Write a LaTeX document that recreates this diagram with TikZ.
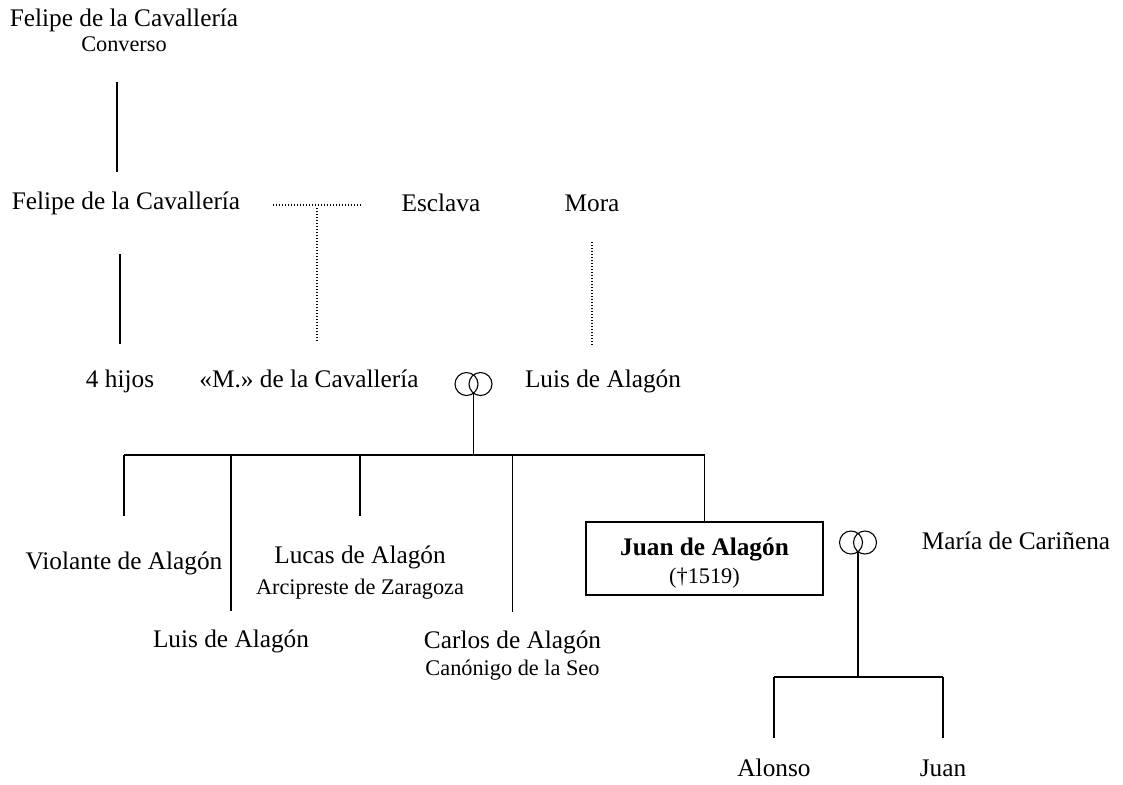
\documentclass[tikz,border=0pt]{standalone}
\usepackage{fontspec}
\setmainfont{Liberation Serif}
\usetikzlibrary{positioning}

\begin{document}
\begin{tikzpicture}[x=0.5pt, y=-0.5pt, node distance=12pt]
\tikzstyle{person} = [inner sep=0pt, text height=0.7em, text depth=0.22em, font=\fontsize{12.65}{15}\selectfont]
\tikzstyle{role} = [inner sep=0pt, text height=0.7em, text depth=0.22em, font=\fontsize{11.15}{13}\selectfont]
\tikzstyle{box} = [draw, line width=0.6pt, minimum width=118.5pt, minimum height=34.5pt, align=center, font=\fontsize{12.65}{14}\selectfont]
\tikzstyle{wed} = [inner sep=0pt, minimum width=18.5pt, minimum height=9pt]
\tikzstyle{kin} = [line width=0.55pt]
\tikzstyle{natural} = [line width=0.55pt, dash pattern=on 0.6pt off 0.9pt]

\useasboundingbox (0,0) rectangle (1123,784);

% generations
\node (felipeA) [person] at (124,22) {Felipe de la Cavallería};
\node (converso) [role, below of=felipeA, node distance=12.3pt] {Converso};
\node (felipeB) [person] at (126,205) {Felipe de la Cavallería};
\node (esclava) [person] at (441,207) {Esclava};
\node (mora) [person] at (592,207) {Mora};
\node (hijos) [person] at (120,383) {4 hijos};
\node (mcav) [person] at (309,383) {«M.» de la Cavallería};
\node (luisA) [person] at (603,383) {Luis de Alagón};
\node (wedA) [wed] at (473.5,384) {};

\node (violante) [person] at (124,565) {Violante de Alagón};
\node (lucas) [person] at (360,559) {Lucas de Alagón};
\node (arcipreste) [role, below of=lucas, node distance=15.3pt] {Arcipreste de Zaragoza};
\node (luisB) [person] at (231,643) {Luis de Alagón};
\node (carlos) [person] at (512.5,644) {Carlos de Alagón};
\node (canonigo) [role, below of=carlos, node distance=13.3pt] {Canónigo de la Seo};
\node (juan) [box] at (704.5,558.5) {\rule{0pt}{13.5pt}\textbf{Juan de Alagón}\\{\fontsize{11.15}{13}\selectfont (†1519)}};
\node (wedB) [wed] at (858,542.5) {};
\node (maria) [person] at (1016,545) {María de Cariñena};
\node (alonso) [person] at (774,772) {Alonso};
\node (juanB) [person] at (943,772) {Juan};

\coordinate (stemA) at (117,82);
\coordinate (stemB) at (117,172);
\coordinate (unionL) at (273,205);
\coordinate (unionR) at (361,205);
\coordinate (unionM) at (317,208);
\coordinate (unionD) at (317,342);
\coordinate (barA) at (0,455);
\coordinate (barB) at (0,677);

% lines
\draw [kin] (stemA) -- (stemB);
\draw [kin] (hijos |- 0,254) -- (hijos |- 0,344);
\draw [natural] (unionL) -- (unionR);
\draw [natural] (unionM) -- (unionD);
\draw [natural] (mora |- 0,242) -- (mora |- 0,345);

\draw [kin] ([xshift=-3.5pt]wedA.center) circle (11.5) ([xshift=3.5pt]wedA.center) circle (11.5);
\draw [kin] (wedA.south) -- (wedA.south |- barA);
\draw [kin] (violante |- barA) -- (juan |- barA);
\draw [kin] (violante |- barA) -- (violante |- 0,516);
\draw [kin] (luisB |- barA) -- (luisB |- 0,611);
\draw [kin] (lucas |- barA) -- (lucas |- 0,516);
\draw [kin] (carlos |- barA) -- (carlos |- 0,612);
\draw [kin] (juan |- barA) -- (juan.north);

\draw [kin] ([xshift=-3.5pt]wedB.center) circle (11.5) ([xshift=3.5pt]wedB.center) circle (11.5);
\draw [kin] (wedB.south) -- (wedB.south |- barB);
\draw [kin] (alonso |- barB) -- (juanB |- barB);
\draw [kin] (alonso |- barB) -- (alonso |- 0,738);
\draw [kin] (juanB |- barB) -- (juanB |- 0,738);
\end{tikzpicture}
\end{document}
